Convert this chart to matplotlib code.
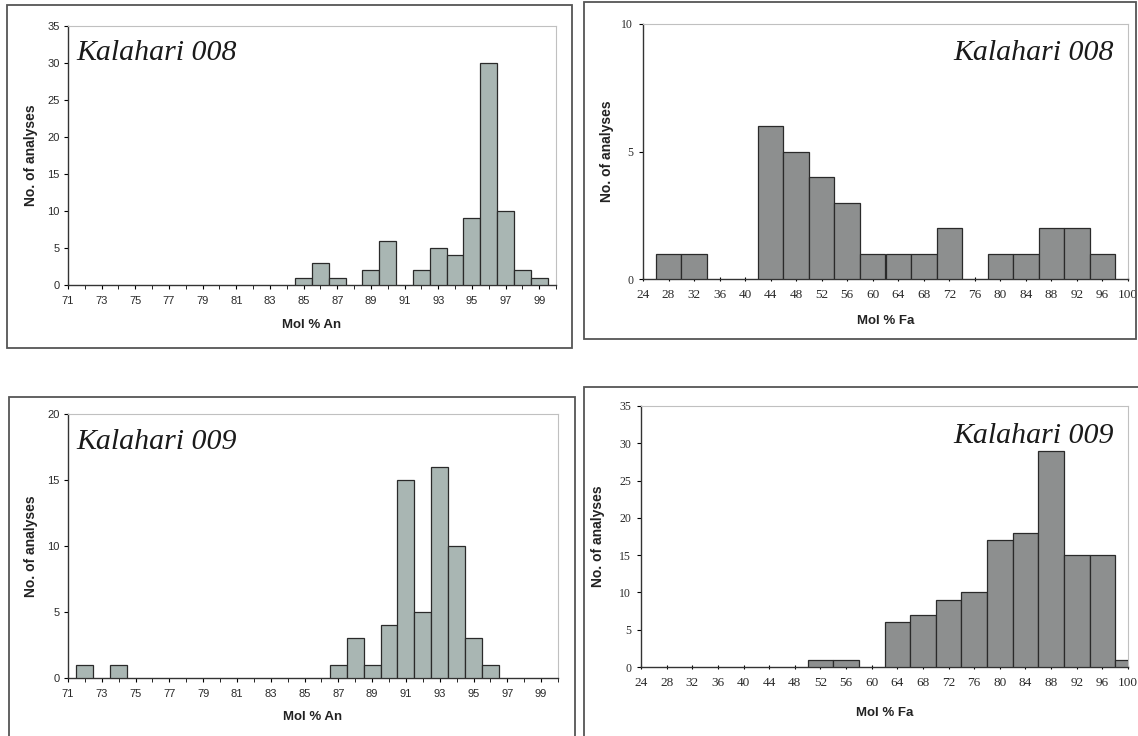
import matplotlib
matplotlib.use("Agg")
import matplotlib.pyplot as plt
from matplotlib.patches import Rectangle

# Mol % An, Kalahari 008 (bin centres, 1 mol% wide)
an008_x = [85, 86, 87, 89, 90, 92, 93, 94, 95, 96, 97, 98, 99]
an008_n = [1, 3, 1, 2, 6, 2, 5, 4, 9, 30, 10, 2, 1]

# Mol % An, Kalahari 009
an009_x = [72, 74, 87, 88, 89, 90, 91, 92, 93, 94, 95, 96]
an009_n = [1, 1, 1, 3, 1, 4, 15, 5, 16, 10, 3, 1]

# Mol % Fa, Kalahari 008 (bin centres, 4 mol% wide)
fa008_x = [28, 32, 44, 48, 52, 56, 60, 64, 68, 72, 80, 84, 88, 92, 96]
fa008_n = [1, 1, 6, 5, 4, 3, 1, 1, 1, 2, 1, 1, 2, 2, 1]

# Mol % Fa, Kalahari 009
fa009_x = [52, 56, 64, 68, 72, 76, 80, 84, 88, 92, 96, 100]
fa009_n = [1, 1, 6, 7, 9, 10, 17, 18, 29, 15, 15, 1]

an_ticks = list(range(71, 100, 2))
fa_ticks = list(range(24, 101, 4))

W, H = 1138, 736
fig = plt.figure(figsize=(W / 100, H / 100), dpi=100)
fig.patch.set_facecolor("white")


def axes_px(left, top, right, bottom):
    return fig.add_axes([left / W, 1 - bottom / H, (right - left) / W, (bottom - top) / H])


def fig_xy(x, y):
    return x / W, 1 - y / H


def frame_px(left, top, right, bottom):
    fig.patches.append(
        Rectangle(
            (left / W, 1 - bottom / H),
            (right - left) / W,
            (bottom - top) / H,
            transform=fig.transFigure,
            fill=False,
            edgecolor="#555555",
            linewidth=1.3,
        )
    )


def style_axes(ax, serif):
    for s in ["top", "right"]:
        ax.spines[s].set_color("#c0c0c0")
        ax.spines[s].set_linewidth(0.8)
    for s in ["left", "bottom"]:
        ax.spines[s].set_color("#333333")
        ax.spines[s].set_linewidth(1.0)
    fam = "Liberation Serif" if serif else "Liberation Sans"
    for lab in ax.get_xticklabels() + ax.get_yticklabels():
        lab.set_family(fam)
        lab.set_color("#2a2a2a")


# panel frames
frame_px(7, 5, 572, 348)
frame_px(584, 2, 1136, 339)
frame_px(9, 397, 575, 745)
frame_px(584, 387, 1145, 745)

panels = [
    # (x, n, width, box, xlim, ylim, ystep, xticks, serif, title, side, ylabel_x, xlabel, xlabel_y)
    (an008_x, an008_n, 1, (68, 26, 556, 285), (71, 100), 35, 5, an_ticks, False,
     "Kalahari 008", "left", 31, "Mol % An", 325),
    (fa008_x, fa008_n, 4, (643, 24, 1128, 279), (24, 100), 10, 5, fa_ticks, True,
     "Kalahari 008", "right", 607, "Mol % Fa", 321),
    (an009_x, an009_n, 1, (68, 414, 558, 678), (71, 100), 20, 5, an_ticks, False,
     "Kalahari 009", "left", 31, "Mol % An", 717),
    (fa009_x, fa009_n, 4, (641, 406, 1128, 667), (24, 100), 35, 5, fa_ticks, True,
     "Kalahari 009", "right", 598, "Mol % Fa", 713),
]

for (xs, ns, w, box, xlim, ytop, ystep, xt, serif, title, side, ylx, xlab, xly) in panels:
    ax = axes_px(*box)
    color = "#8d8f8f" if serif else "#a9b6b3"
    ax.bar(xs, ns, width=w, color=color, edgecolor="#2a2a2a", linewidth=0.9, zorder=3)
    ax.set_xlim(*xlim)
    ax.set_ylim(0, ytop)
    ax.set_yticks(range(0, ytop + 1, ystep))
    ax.set_xticks(xt)
    if serif:
        ax.tick_params(axis="x", labelsize=9.5, length=3, direction="inout", pad=6)
        ax.tick_params(axis="y", labelsize=8.5, length=3, pad=4)
    else:
        ax.set_xticks(range(xlim[0], xlim[1] + 1), minor=True)
        ax.tick_params(axis="x", which="both", labelsize=8, length=3, pad=5)
        ax.tick_params(axis="y", labelsize=8, length=3, pad=3)
    style_axes(ax, serif)

    if side == "left":
        ax.text(0.018, 0.895, title, transform=ax.transAxes, ha="left", va="center",
                family="Liberation Serif", style="italic", fontsize=21.5, color="#1a1a1a")
    else:
        ax.text(0.971, 0.885, title, transform=ax.transAxes, ha="right", va="center",
                family="Liberation Serif", style="italic", fontsize=21.5, color="#1a1a1a")

    cy = (box[1] + box[3]) / 2
    fig.text(*fig_xy(ylx, cy), "No. of analyses", rotation=90, ha="center", va="center",
             family="Liberation Sans", weight="bold", fontsize=10, color="#222222")
    cx = (box[0] + box[2]) / 2
    fig.text(*fig_xy(cx, xly), xlab, ha="center", va="center",
             family="Liberation Sans", weight="bold", fontsize=9.5, color="#222222")

fig.savefig("out.png", dpi=100, facecolor="white")
